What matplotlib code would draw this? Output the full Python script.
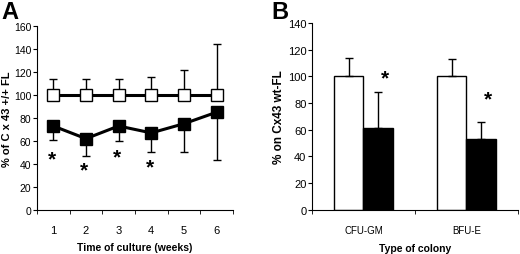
import matplotlib.pyplot as plt
import numpy as np

plt.rcParams['font.family'] = ['Liberation Sans', 'DejaVu Sans']

# Panel A data
weeks = [1, 2, 3, 4, 5, 6]
wt_mean = [100, 100, 100, 100, 100, 100]
wt_err_up = [14, 14, 14, 16, 22, 44]
ko_mean = [73, 62, 73, 67, 75, 85]
ko_err_low = [12, 15, 13, 17, 25, 42]
star_weeks = [1, 2, 3, 4]
star_y = [44, 35, 46, 37]

# Panel B data
colonies = ['CFU-GM', 'BFU-E']
wt_bar = [100, 100]
wt_bar_err = [14, 13]
ko_bar = [61, 53]
ko_bar_err = [27, 13]
bar_star_y = [99, 83]

narrow = ['Liberation Sans Narrow', 'Liberation Sans', 'DejaVu Sans']

fig = plt.figure(figsize=(5.2, 2.55), dpi=100)

# ---- A ----
ax = fig.add_axes([0.071, 0.173, 0.377, 0.721])
ax.errorbar(weeks, wt_mean, yerr=[np.zeros(6), wt_err_up], fmt='none',
            ecolor='black', elinewidth=1, capsize=3, capthick=1, zorder=1)
ax.errorbar(weeks, ko_mean, yerr=[ko_err_low, np.zeros(6)], fmt='none',
            ecolor='black', elinewidth=1, capsize=3, capthick=1, zorder=1)
ax.plot(weeks, wt_mean, '-s', color='black', lw=2.2, ms=8.5,
        mfc='white', mec='black', mew=1, zorder=3)
ax.plot(weeks, ko_mean, '-s', color='black', lw=2.2, ms=8.5,
        mfc='black', mec='black', zorder=3)
for w, y in zip(star_weeks, star_y):
    ax.text(w - 0.05, y, '*', ha='center', va='center', fontsize=15,
            fontweight='bold')
ax.set_xlim(0.5, 6.5)
ax.set_ylim(0, 160)
ax.set_yticks(range(0, 161, 20))
ax.set_xticks(weeks)
ax.set_xticks(np.arange(0.5, 6.6, 1), minor=True)
ax.tick_params(axis='x', which='major', length=0, labelsize=8, pad=11)
ax.tick_params(axis='x', which='minor', length=3, direction='out')
ax.tick_params(axis='y', labelsize=7.5, length=3, direction='out', pad=1)
ax.spines['top'].set_visible(False)
ax.spines['right'].set_visible(False)
ax.set_ylabel('% of C x 43 +/+ FL', fontsize=8, fontweight='bold', labelpad=1)
ax.set_xlabel('Time of culture (weeks)', fontsize=7.5, fontweight='bold', labelpad=5)
fig.text(0.003, 0.995, 'A', fontsize=17, fontweight='bold', va='top')

# ---- B ----
bx = fig.add_axes([0.6, 0.173, 0.396, 0.733])
x = np.arange(1, 3)
bw = 0.29
bx.bar(x - bw / 2, wt_bar, bw, color='white', edgecolor='black', lw=1,
       yerr=[np.zeros(2), wt_bar_err], capsize=3,
       error_kw=dict(elinewidth=1, capthick=1))
bx.bar(x + bw / 2, ko_bar, bw, color='black', edgecolor='black', lw=1,
       yerr=[np.zeros(2), ko_bar_err], capsize=3,
       error_kw=dict(elinewidth=1, capthick=1))
for xi, y in zip(x, bar_star_y):
    bx.text(xi + bw / 2 + 0.06, y, '*', ha='center', va='center',
            fontsize=15, fontweight='bold')
bx.set_xlim(0.5, 2.5)
bx.set_ylim(0, 140)
bx.set_yticks(range(0, 141, 20))
bx.set_xticks(x)
bx.set_xticklabels(colonies, family=narrow)
bx.set_xticks([0.5, 1.5, 2.5], minor=True)
bx.tick_params(axis='x', which='major', length=0, labelsize=7, pad=11)
bx.tick_params(axis='x', which='minor', length=3, direction='out')
bx.tick_params(axis='y', labelsize=8, length=3, direction='out', pad=1)
bx.spines['top'].set_visible(False)
bx.spines['right'].set_visible(False)
bx.set_ylabel('% on Cx43 wt-FL', fontsize=8.5, fontweight='bold', labelpad=2)
bx.set_xlabel('Type of colony', fontsize=7.5, fontweight='bold', labelpad=6,
              family=narrow)
fig.text(0.522, 0.995, 'B', fontsize=17, fontweight='bold', va='top')

fig.savefig('out.png', dpi=100)
